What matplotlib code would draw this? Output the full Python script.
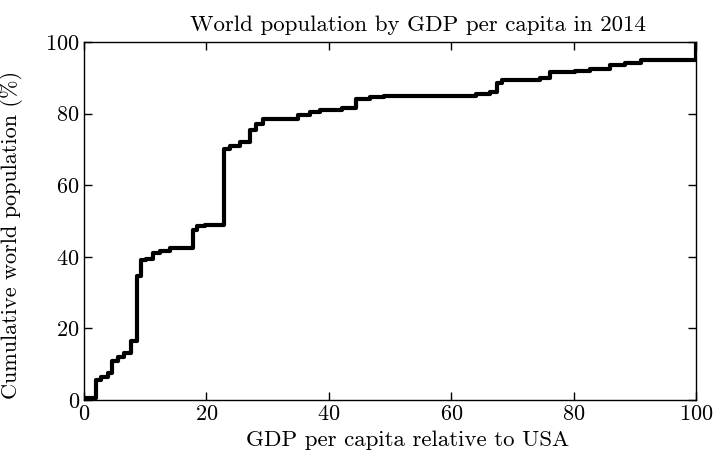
import numpy as np
import matplotlib
matplotlib.use('Agg')
import matplotlib.pyplot as plt

# step points (post steps)
gdp_rel = [0, 2.0, 2.8, 4.0, 4.6, 5.5, 6.5, 7.7, 8.7, 9.3, 10.2, 11.2, 12.4, 14.0,
           17.8, 18.5, 19.8, 22.9, 23.9, 25.5, 27.1, 28.1, 29.2, 35.0, 37.0,
           38.6, 42.2, 44.4, 46.7, 49.0, 64.0, 66.3, 67.5, 68.3, 74.5, 76.1,
           80.2, 82.7, 86.0, 88.4, 91.0, 100.0]
cum_pop = [0.5, 5.5, 6.5, 7.5, 11.0, 12.0, 13.0, 16.5, 34.5, 39.0, 39.5, 41.0, 41.5,
           42.5, 47.5, 48.5, 49.0, 70.0, 71.0, 72.0, 75.5, 77.0, 78.5, 79.5,
           80.5, 81.0, 81.5, 84.0, 84.5, 85.0, 85.5, 86.0, 88.5, 89.5, 90.0,
           91.5, 92.0, 92.5, 93.5, 94.0, 95.0, 100.0]

plt.rcParams['font.family'] = 'cmr10'
plt.rcParams['mathtext.fontset'] = 'cm'
plt.rcParams['axes.formatter.use_mathtext'] = True

fig = plt.figure(figsize=(7.15, 4.55), dpi=100)
ax = fig.add_axes([0.1175, 0.1209, 0.8559, 0.7868])

ax.step(gdp_rel, cum_pop, where='post', color='black', lw=3)

ax.set_xlim(0, 100)
ax.set_ylim(0, 100)
ax.set_xticks(np.arange(0, 101, 20))
ax.set_yticks(np.arange(0, 101, 20))
ax.tick_params(direction='in', top=True, right=True, length=6, width=1,
               labelsize=16, pad=3)
for s in ax.spines.values():
    s.set_linewidth(1)

ax.set_xlabel('GDP per capita relative to USA', fontsize=16.5)
ax.xaxis.set_label_coords(0.528, -0.085)
ax.set_ylabel('Cumulative world population (%)', fontsize=16)
ax.yaxis.set_label_coords(-0.1, 0.46)
ax.set_title('World population by GDP per capita in 2014', fontsize=16.5,
             pad=8, x=0.545)

fig.savefig('out.png', dpi=100)
